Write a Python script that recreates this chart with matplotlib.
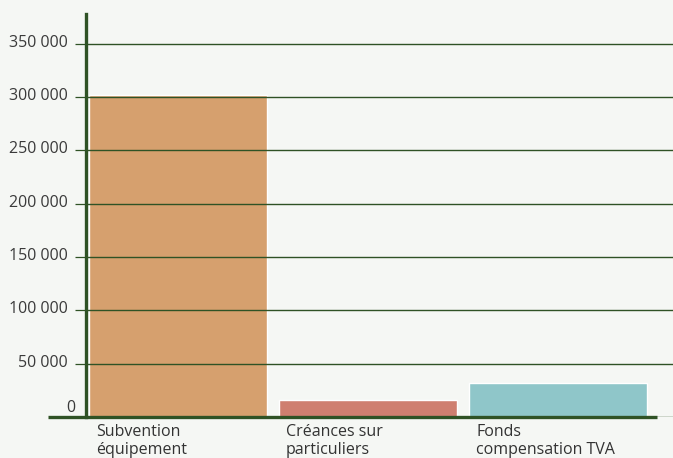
import matplotlib.pyplot as plt
from matplotlib.lines import Line2D
import matplotlib.transforms as mtransforms

# data
categories = ["Subvention\néquipement", "Créances sur\nparticuliers", "Fonds\ncompensation TVA"]
values = [302000, 16000, 32000]
colors = ["#d6a06e", "#cf7f70", "#8fc6c9"]
yticks = [0, 50000, 100000, 150000, 200000, 250000, 300000, 350000]
ytick_labels = ["0", "50 000", "100 000", "150 000", "200 000", "250 000", "300 000", "350 000"]

bg = "#f5f7f4"
green = "#2f5225"

W, H = 673, 458
fig = plt.figure(figsize=(W / 100, H / 100), dpi=100, facecolor=bg)
# axes from x=86 to right edge, y from 417 (zero) to 14
ax = fig.add_axes([86 / W, (H - 417) / H, (W - 86) / W, (417 - 14) / H])
ax.set_facecolor(bg)

xpos = list(range(len(values)))
w = 178 / 190
ax.bar(xpos, values, width=w, color=colors, edgecolor="white", linewidth=1, zorder=1)

ax.set_xlim(-0.484, 2.605)
ax.set_ylim(0, 378000)

ax.set_yticks(yticks)
ax.set_yticklabels(ytick_labels, fontsize=11.5, color="#3a3a3a", family="Open Sans")
ax.tick_params(axis="y", length=8, width=0.9, color=green, pad=5)
ax.grid(axis="y", color=green, linewidth=1.0)
ax.set_axisbelow(False)
ax.set_xticks([])

# labels sit a little above their lines; the zero one more so
for lab in ax.get_yticklabels():
    dx, dy = (7, 11) if lab.get_text() == "0" else (0, 3)
    lab.set_transform(lab.get_transform() + mtransforms.ScaledTranslation(dx / 100, dy / 100, fig.dpi_scale_trans))

for s in ["top", "right", "bottom"]:
    ax.spines[s].set_visible(False)
ax.spines["left"].set_color(green)
ax.spines["left"].set_linewidth(2.4)
ax.spines["left"].set_zorder(5)

# thick baseline running past both ends of the axes
fig.add_artist(Line2D([48 / W, 657 / W], [(H - 417) / H] * 2, color=green,
                      linewidth=2.4, solid_capstyle="butt", zorder=6))

trans = mtransforms.blended_transform_factory(ax.transData, fig.transFigure)
for i, lab in enumerate(categories):
    ax.text(i - w / 2 + 7 / 190, (H - 424) / H, lab, transform=trans,
            ha="left", va="top", fontsize=11.5, family="Open Sans", color="#333333",
            linespacing=1.15)

fig.savefig("out.png", dpi=100, facecolor=bg)
